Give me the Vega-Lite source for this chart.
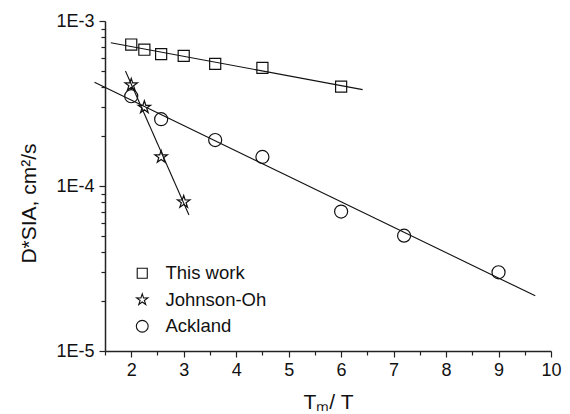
{
  "$schema": "https://vega.github.io/schema/vega-lite/v6.json",
  "width": 446,
  "height": 330,
  "autosize": {"type": "none"},
  "padding": {"left": 105, "top": 21, "right": 19, "bottom": 63},
  "background": "white",
  "config": {
    "view": {"stroke": null},
    "font": "Liberation Sans",
    "axis": {"grid": false, "domainColor": "#222", "domainWidth": 1.5, "tickColor": "#222", "tickWidth": 1.2, "labelColor": "#111", "titleColor": "#111", "labelFont": "Liberation Sans", "titleFont": "Liberation Sans", "titleFontWeight": "normal"}
  },
  "resolve": {"axis": {"x": "independent"}},
  "data": {
    "values": [
      {"series": "This work", "kind": "pt", "x": 2.0, "y": 0.00072},
      {"series": "This work", "kind": "pt", "x": 2.25, "y": 0.00067},
      {"series": "This work", "kind": "pt", "x": 2.57, "y": 0.00063},
      {"series": "This work", "kind": "pt", "x": 3.0, "y": 0.000615},
      {"series": "This work", "kind": "pt", "x": 3.6, "y": 0.00055},
      {"series": "This work", "kind": "pt", "x": 4.5, "y": 0.00052},
      {"series": "This work", "kind": "pt", "x": 6.0, "y": 0.0004},
      {"series": "Johnson-Oh", "kind": "pt", "x": 2.0, "y": 0.00041},
      {"series": "Johnson-Oh", "kind": "pt", "x": 2.25, "y": 0.0003},
      {"series": "Johnson-Oh", "kind": "pt", "x": 2.57, "y": 0.00015},
      {"series": "Johnson-Oh", "kind": "pt", "x": 3.0, "y": 0.00008},
      {"series": "Ackland", "kind": "pt", "x": 2.0, "y": 0.00035},
      {"series": "Ackland", "kind": "pt", "x": 2.57, "y": 0.000254},
      {"series": "Ackland", "kind": "pt", "x": 3.6, "y": 0.00019},
      {"series": "Ackland", "kind": "pt", "x": 4.5, "y": 0.00015},
      {"series": "Ackland", "kind": "pt", "x": 6.0, "y": 0.00007},
      {"series": "Ackland", "kind": "pt", "x": 7.2, "y": 0.00005},
      {"series": "Ackland", "kind": "pt", "x": 9.0, "y": 0.00003},
      {"series": "This work", "kind": "fit", "x": 1.61, "y": 0.000739},
      {"series": "This work", "kind": "fit", "x": 6.41, "y": 0.000384},
      {"series": "Johnson-Oh", "kind": "fit", "x": 1.89, "y": 0.000498},
      {"series": "Johnson-Oh", "kind": "fit", "x": 3.1, "y": 0.0000667},
      {"series": "Ackland", "kind": "fit", "x": 1.3, "y": 0.000425},
      {"series": "Ackland", "kind": "fit", "x": 9.7, "y": 0.0000216}
    ]
  },
  "layer": [
    {
      "transform": [{"filter": "datum.kind == 'fit'"}],
      "mark": {"type": "line", "color": "#111", "strokeWidth": 1.1, "clip": false},
      "encoding": {
        "x": {
          "field": "x", "type": "quantitative",
          "scale": {"domain": [1.5, 10], "nice": false, "zero": false},
          "axis": {
            "orient": "bottom",
            "title": null,
            "domain": false,
            "labels": false,
            "values": [1.5, 2.5, 3.5, 4.5, 5.5, 6.5, 7.5, 8.5, 9.5],
            "tickSize": 4
          }
        },
        "y": {"field": "y", "type": "quantitative"},
        "detail": {"field": "series"}
      }
    },
    {
      "transform": [{"filter": "datum.kind == 'pt'"}],
      "mark": {"type": "point", "filled": false, "stroke": "#111", "strokeWidth": 1.2, "opacity": 1, "size": 170},
      "encoding": {
        "x": {
          "field": "x", "type": "quantitative",
          "scale": {"domain": [1.5, 10], "nice": false, "zero": false},
          "axis": {
            "orient": "bottom",
            "title": "Tₘ/ T",
            "titleFontSize": 21,
            "titleY": 40,
            "values": [2, 3, 4, 5, 6, 7, 8, 9, 10],
            "format": "d",
            "labelFontSize": 18,
            "labelFlush": false,
            "labelOverlap": false,
            "labelPadding": 4,
            "tickSize": 6
          }
        },
        "y": {
          "field": "y", "type": "quantitative",
          "scale": {"type": "log", "domain": [0.00001, 0.001], "nice": false},
          "axis": {
            "title": "D*SIA, cm²/s",
            "titleFontSize": 21,
            "titleX": -66,
            "titleY": 182,
            "values": [0.00001, 0.00002, 0.00003, 0.00004, 0.00005, 0.00006, 0.00007, 0.00008, 0.00009, 0.0001, 0.0002, 0.0003, 0.0004, 0.0005, 0.0006, 0.0007, 0.0008, 0.0009, 0.001],
            "labelExpr": "abs(log(datum.value)/LN10 - round(log(datum.value)/LN10)) < 0.001 ? '1E-' + round(-log(datum.value)/LN10) : ''",
            "labelFontSize": 18,
            "labelFlush": false,
            "labelOverlap": false,
            "labelPadding": 5,
            "tickSize": {"condition": {"test": "abs(log(datum.value)/LN10 - round(log(datum.value)/LN10)) < 0.001", "value": 6}, "value": 4}
          }
        },
        "shape": {
          "field": "series", "type": "nominal",
          "scale": {
            "domain": ["This work", "Johnson-Oh", "Ackland"],
            "range": ["M-0.85,-0.85L0.85,-0.85L0.85,0.85L-0.85,0.85Z", "M0,-1L0.223,-0.307L0.951,-0.309L0.361,0.117L0.588,0.809L0,0.38L-0.588,0.809L-0.361,0.117L-0.951,-0.309L-0.223,-0.307Z", "circle"]
          },
          "legend": {
            "title": null,
            "orient": "none",
            "legendX": 28,
            "legendY": 243,
            "labelFontSize": 18.5,
            "labelColor": "#111",
            "labelOffset": 14,
            "symbolStrokeColor": "#111",
            "symbolStrokeWidth": 1.1,
            "symbolFillColor": "white",
            "symbolSize": 140,
            "rowPadding": 7.5
          }
        }
      }
    }
  ]
}
